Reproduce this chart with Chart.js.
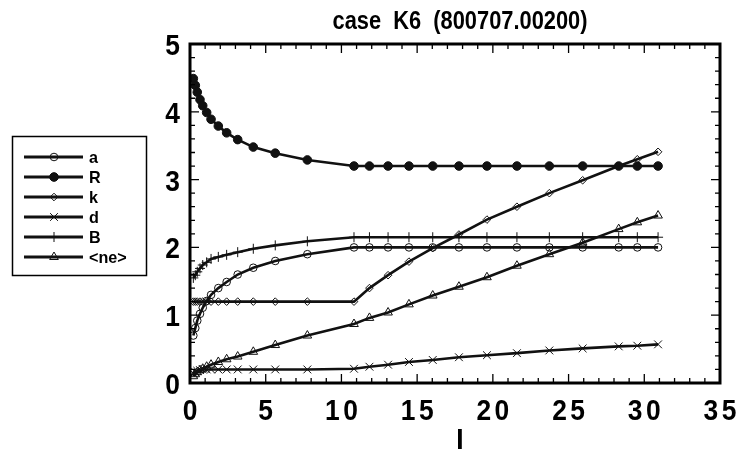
<!DOCTYPE html>
<html>
<head>
<meta charset="utf-8">
<script src="https://cdn.jsdelivr.net/npm/chart.js@4"></script>
<style>
  body { margin: 0; background: #fff; }
</style>
</head>
<body>
<canvas id="chart" width="741" height="449"></canvas>
<script>
// time grid shared by every series
const tValues = [0.22, 0.35, 0.48, 0.66, 0.84, 1.10, 1.39, 1.87, 2.42, 3.15, 4.18, 5.63, 7.75,
                 10.83, 11.85, 13.08, 14.46, 16.03, 17.76, 19.61, 21.59, 23.73, 25.93, 28.31, 29.54, 30.91];

const aValues  = [0.70, 0.81, 0.92, 1.02, 1.11, 1.21, 1.30, 1.40, 1.49, 1.60, 1.70, 1.80, 1.90,
                  2.0, 2.0, 2.0, 2.0, 2.0, 2.0, 2.0, 2.0, 2.0, 2.0, 2.0, 2.0, 2.0];
const rValues  = [4.49, 4.39, 4.29, 4.18, 4.09, 3.99, 3.89, 3.79, 3.69, 3.59, 3.48, 3.39, 3.29,
                  3.2, 3.2, 3.2, 3.2, 3.2, 3.2, 3.2, 3.2, 3.2, 3.2, 3.2, 3.2, 3.2];
const kValues  = [1.2, 1.2, 1.2, 1.2, 1.2, 1.2, 1.2, 1.2, 1.2, 1.2, 1.2, 1.2, 1.2,
                  1.2, 1.40, 1.59, 1.79, 1.99, 2.19, 2.41, 2.60, 2.80, 2.99, 3.20, 3.30, 3.41];
const dValues  = [0.14, 0.16, 0.18, 0.19, 0.20, 0.20, 0.20, 0.20, 0.20, 0.20, 0.20, 0.20, 0.20,
                  0.21, 0.24, 0.27, 0.31, 0.34, 0.38, 0.41, 0.44, 0.48, 0.51, 0.54, 0.55, 0.57];
const bValues  = [1.55, 1.59, 1.64, 1.69, 1.74, 1.78, 1.83, 1.86, 1.89, 1.93, 1.98, 2.03, 2.09,
                  2.15, 2.15, 2.15, 2.15, 2.15, 2.15, 2.15, 2.15, 2.15, 2.15, 2.15, 2.15, 2.15];
const neValues = [0.10, 0.13, 0.16, 0.19, 0.21, 0.24, 0.27, 0.31, 0.35, 0.39, 0.46, 0.56, 0.70,
                  0.87, 0.96, 1.04, 1.16, 1.29, 1.42, 1.56, 1.73, 1.90, 2.07, 2.27, 2.37, 2.47];

const seriesNames = ['a', 'R', 'k', 'd', 'B', '<ne>'];
const xTicks = [0, 5, 10, 15, 20, 25, 30, 35];
const yTicks = [0, 1, 2, 3, 4, 5];

const titleText = 'case  K6  (800707.00200)';
const xTitle = 'I';

const FONT = "'Liberation Sans', Arial, Helvetica, sans-serif";
const INK = '#111';

function toPoints(ys) {
    return ys.map((y, i) => ({ x: tValues[i], y: y }));
}

function makeSet(label, ys, style, radius, fill) {
    return {
        label: label,
        data: toPoints(ys),
        borderColor: INK,
        borderWidth: 2.6,
        pointStyle: style,
        pointRadius: radius,
        pointBorderWidth: 1,
        pointBorderColor: INK,
        pointBackgroundColor: fill ? INK : 'rgba(0,0,0,0)',
        tension: 0,
        fill: false
    };
}

const datasets = [
    makeSet(seriesNames[0], aValues, 'circle', 3.8, false),
    makeSet(seriesNames[1], rValues, 'circle', 4.3, true),
    makeSet(seriesNames[2], kValues, 'rectRot', 3.8, false),
    makeSet(seriesNames[3], dValues, 'crossRot', 5.5, false),
    makeSet(seriesNames[4], bValues, 'cross', 5, false),
    makeSet(seriesNames[5], neValues, 'triangle', 5, false)
];

// condensed bold text (squeezed horizontally)
function squeezed(ctx, text, x, y, size, sx, align, baseline, spacing) {
    ctx.save();
    ctx.translate(x, y);
    ctx.scale(sx, 1);
    ctx.font = 'bold ' + size + 'px ' + FONT;
    ctx.textAlign = align;
    ctx.textBaseline = baseline;
    ctx.letterSpacing = (spacing || 0) + 'px';
    let dx = 0;
    if (spacing && align === 'center') dx = spacing / 2;
    if (spacing && align === 'right') dx = spacing;
    ctx.fillText(text, dx, 0);
    ctx.restore();
}

// frame with inward ticks on all four sides, tick labels, title, axis name and the boxed legend
const framePlugin = {
    id: 'frame',
    beforeDraw(chart) {
        const ctx = chart.ctx;
        ctx.save();
        ctx.fillStyle = '#fff';
        ctx.fillRect(0, 0, chart.width, chart.height);
        ctx.restore();
    },
    afterDraw(chart) {
        const ctx = chart.ctx;
        const area = chart.chartArea;
        const xs = chart.scales.x;
        const ys = chart.scales.y;
        ctx.save();
        ctx.strokeStyle = '#000';
        ctx.fillStyle = '#000';

        // ticks
        ctx.lineWidth = 1.3;
        ctx.beginPath();
        for (let v = 1; v < 35; v++) {
            const px = xs.getPixelForValue(v);
            const len = v % 5 === 0 ? 9 : 5;
            ctx.moveTo(px, area.bottom);
            ctx.lineTo(px, area.bottom - len);
            ctx.moveTo(px, area.top);
            ctx.lineTo(px, area.top + len);
        }
        for (let i = 1; i < 25; i++) {
            const py = ys.getPixelForValue(i / 5);
            const len = i % 5 === 0 ? 9 : 5;
            ctx.moveTo(area.left, py);
            ctx.lineTo(area.left + len, py);
            ctx.moveTo(area.right, py);
            ctx.lineTo(area.right - len, py);
        }
        ctx.stroke();

        // frame
        ctx.lineWidth = 3;
        ctx.strokeRect(area.left, area.top, area.right - area.left, area.bottom - area.top);

        // tick labels
        xTicks.forEach(v => {
            squeezed(ctx, String(v), xs.getPixelForValue(v), 420, 30, 0.88, 'center', 'alphabetic', 4);
        });
        yTicks.forEach(v => {
            squeezed(ctx, String(v), area.left - 10, ys.getPixelForValue(v) + 11, 30, 0.88, 'right', 'alphabetic', 0);
        });

        // title and x axis name
        squeezed(ctx, titleText, 460, 29, 26, 0.84, 'center', 'alphabetic', 0);
        squeezed(ctx, xTitle, 460, 449, 30, 0.88, 'center', 'alphabetic', 0);

        // legend
        ctx.lineWidth = 1.5;
        ctx.strokeRect(12.5, 136.5, 134, 139);
        chart.data.datasets.forEach((ds, i) => {
            const y = 157 + i * 20;
            ctx.lineWidth = 2.8;
            ctx.strokeStyle = INK;
            ctx.beginPath();
            ctx.moveTo(24, y);
            ctx.lineTo(83, y);
            ctx.stroke();
            ctx.fillStyle = ds.pointBackgroundColor;
            ctx.lineWidth = 1;
            Chart.helpers.drawPoint(ctx, {
                pointStyle: ds.pointStyle,
                radius: ds.pointRadius,
                borderWidth: 1,
                rotation: 0
            }, 54, y);
            if (ds.pointBackgroundColor !== 'rgba(0,0,0,0)') ctx.fill();
            ctx.fillStyle = '#000';
            squeezed(ctx, ds.label, 89, y + 6, 17, 0.95, 'left', 'alphabetic', 0);
        });
        ctx.restore();
    }
};

new Chart(document.getElementById('chart'), {
    type: 'line',
    data: { datasets: datasets },
    options: {
        responsive: false,
        animation: false,
        layout: { padding: { top: 44, right: 21, left: 0, bottom: 0 } },
        plugins: {
            legend: { display: false },
            title: { display: false },
            tooltip: { enabled: false }
        },
        scales: {
            x: {
                type: 'linear',
                min: 0,
                max: 35,
                afterBuildTicks: scale => { scale.ticks = xTicks.map(v => ({ value: v })); },
                ticks: { display: false },
                grid: { display: false, drawTicks: false },
                border: { display: false },
                afterFit: scale => { scale.height = 66; }
            },
            y: {
                min: 0,
                max: 5,
                afterBuildTicks: scale => { scale.ticks = yTicks.map(v => ({ value: v })); },
                ticks: { display: false },
                grid: { display: false, drawTicks: false },
                border: { display: false },
                afterFit: scale => { scale.width = 190; }
            }
        }
    },
    plugins: [framePlugin]
});
</script>
</body>
</html>
